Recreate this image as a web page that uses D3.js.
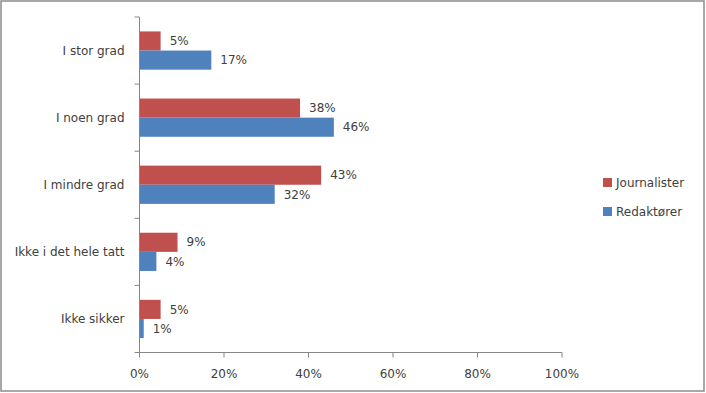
<!DOCTYPE html>
<html><head><meta charset="utf-8">
<script src="https://cdn.jsdelivr.net/npm/d3@7"></script>
<style>
html,body{margin:0;padding:0;background:#fff;}
svg text{font-family:"DejaVu Sans",sans-serif;font-size:12px;fill:#404040;}
</style></head>
<body><svg id="c" width="706" height="393"></svg>
<script>
const categories = ["I stor grad","I noen grad","I mindre grad","Ikke i det hele tatt","Ikke sikker"];
const seriesNames = ["Journalister","Redaktører"];
const journalister = [5,38,43,9,5];
const redaktorer = [17,46,32,4,1];
const xTicks = [0,20,40,60,80,100];
const colors = ["#C0504D","#4F81BD"];

(function(){
const svg = d3.select("#c");
svg.append("rect").attr("x",1).attr("y",1).attr("width",703).attr("height",390)
  .attr("fill","#fff").attr("stroke","#8c8c8c").attr("stroke-width",1.5);

const pl=139.5, pr=562, pt=17, pb=352.5;
const x = d3.scaleLinear().domain([0,100]).range([pl,pr]);
const y = d3.scaleBand().domain(categories).range([pt,pb]).padding(0);
const groupH = y.bandwidth()*0.57;
const sub = d3.scaleBand().domain(seriesNames).range([0,groupH]).padding(0);

const series = [journalister, redaktorer];
const g = svg.append("g");
categories.forEach((c,i)=>{
  const y0 = y(c) + (y.bandwidth()-groupH)/2;
  seriesNames.forEach((s,j)=>{
    const v = series[j][i];
    g.append("rect").attr("x",x(0)).attr("y",y0+sub(s))
      .attr("width",x(v)-x(0)).attr("height",sub.bandwidth())
      .attr("fill",colors[j]);
    g.append("text").attr("x",x(v)+9).attr("y",y0+sub(s)+sub.bandwidth()/2)
      .attr("dy","0.35em").text(v+"%");
  });
});

const ya = svg.append("g");
ya.append("line").attr("x1",pl).attr("x2",pl).attr("y1",pt).attr("y2",pb)
  .attr("stroke","#868686");
const bounds = categories.map(c=>y(c)).concat([pb]);
bounds.forEach(b=>{
  ya.append("line").attr("x1",pl-5).attr("x2",pl).attr("y1",b).attr("y2",b).attr("stroke","#868686");
});
categories.forEach(c=>{
  ya.append("text").attr("x",pl-15).attr("y",y(c)+y.bandwidth()/2).attr("dy","0.35em")
    .attr("text-anchor","end").text(c);
});

const xa = svg.append("g").attr("transform",`translate(0,${pb})`);
xa.append("line").attr("x1",pl).attr("x2",pr).attr("stroke","#868686");
xTicks.forEach(t=>{
  xa.append("line").attr("x1",x(t)).attr("x2",x(t)).attr("y1",0).attr("y2",5).attr("stroke","#868686");
  xa.append("text").attr("x",x(t)).attr("y",25).attr("text-anchor","middle").text(t+"%");
});

const lg = svg.append("g");
const ly = [178,207];
seriesNames.forEach((s,j)=>{
  lg.append("rect").attr("x",603).attr("y",ly[j]).attr("width",9).attr("height",9).attr("fill",colors[j]);
  lg.append("text").attr("x",616).attr("y",ly[j]+4.5).attr("dy","0.35em").text(s);
});
})();
</script></body></html>
